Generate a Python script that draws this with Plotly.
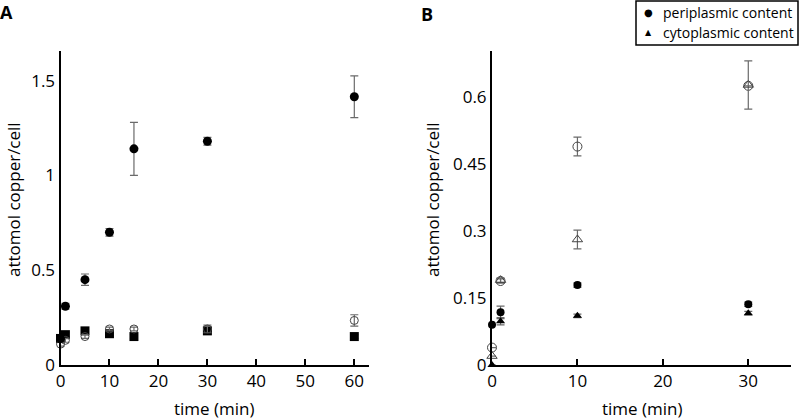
import plotly.graph_objects as go

# Panel A data
a_time = [0, 1, 5, 10, 15, 30, 60]
a_filled_circle = [0.14, 0.31, 0.45, 0.70, 1.14, 1.18, 1.415]
a_filled_circle_err = [0.01, 0.015, 0.03, 0.02, 0.14, 0.02, 0.11]
a_open_circle = [0.11, 0.13, 0.15, 0.19, 0.19, 0.19, 0.235]
a_open_circle_err = [0.01, 0.01, 0.01, 0.01, 0.01, 0.02, 0.03]
a_square = [0.14, 0.16, 0.18, 0.165, 0.15, 0.18, 0.15]
a_square_err = [0.01, 0.01, 0.01, 0.01, 0.01, 0.01, 0.01]

# Panel B data
b_time = [0, 1, 10, 30]
b_peri = [0.09, 0.118, 0.179, 0.136]
b_peri_err = [0.0, 0.014, 0.005, 0.005]
b_cyto = [0.0, 0.098, 0.11, 0.116]
b_cyto_err = [0.0, 0.008, 0.004, 0.004]
b_open_circle = [0.039, 0.188, 0.489, 0.625]
b_open_circle_err = [0.0, 0.005, 0.021, 0.0]
b_open_tri = [0.02, 0.19, 0.281, 0.627]
b_open_tri_err = [0.0, 0.005, 0.021, 0.054]

legend_labels = ["periplasmic content", "cytoplasmic content"]
legend_symbols = ["●", "▲"]

FONT = "Open Sans"
ERRC = "#6a6a6a"

def err(vals):
    return dict(type="data", array=vals, visible=True, color=ERRC, thickness=1.2, width=4)

fig = go.Figure()

# Panel A traces
fig.add_trace(go.Scatter(x=a_time, y=a_square, mode="markers", xaxis="x", yaxis="y",
                         marker=dict(symbol="square", size=9, color="black"),
                         error_y=err(a_square_err), showlegend=False, cliponaxis=False))
fig.add_trace(go.Scatter(x=a_time, y=a_open_circle, mode="markers", xaxis="x", yaxis="y",
                         marker=dict(symbol="circle-open", size=8, color="#444", line=dict(width=1)),
                         error_y=err(a_open_circle_err), showlegend=False, cliponaxis=False))
fig.add_trace(go.Scatter(x=a_time, y=a_filled_circle, mode="markers", xaxis="x", yaxis="y",
                         marker=dict(symbol="circle", size=9, color="black"),
                         error_y=err(a_filled_circle_err), showlegend=False, cliponaxis=False))

# Panel B traces
fig.add_trace(go.Scatter(x=b_time, y=b_open_circle, mode="markers", xaxis="x2", yaxis="y2",
                         marker=dict(symbol="circle-open", size=9, color="#444", line=dict(width=1)),
                         error_y=err(b_open_circle_err), showlegend=False, cliponaxis=False))
fig.add_trace(go.Scatter(x=b_time, y=b_open_tri, mode="markers", xaxis="x2", yaxis="y2",
                         marker=dict(symbol="triangle-up-open", size=9, color="#444", line=dict(width=1)),
                         error_y=err(b_open_tri_err), showlegend=False, cliponaxis=False))
fig.add_trace(go.Scatter(x=b_time, y=b_peri, mode="markers", xaxis="x2", yaxis="y2",
                         name=legend_labels[0],
                         marker=dict(symbol="circle", size=8, color="black"),
                         error_y=err(b_peri_err), showlegend=False, cliponaxis=False))
fig.add_trace(go.Scatter(x=b_time, y=b_cyto, mode="markers", xaxis="x2", yaxis="y2",
                         name=legend_labels[1],
                         marker=dict(symbol="triangle-up", size=8, color="black"),
                         error_y=err(b_cyto_err), showlegend=False, cliponaxis=False))

ydom = [1 - 365 / 419, 1 - 51 / 419]
axis_common = dict(showgrid=False, zeroline=False, showline=True, linecolor="black", linewidth=2,
                   automargin=False, tickfont=dict(family=FONT, size=17, color="black"))

fig.update_layout(
    width=800, height=419,
    margin=dict(l=0, r=0, t=0, b=0, autoexpand=False),
    paper_bgcolor="white", plot_bgcolor="white",
    font=dict(family=FONT, color="black"),
    showlegend=False,
    xaxis=dict(domain=[60.5 / 800, 369 / 800], range=[0, 63], tickvals=[0, 10, 20, 30, 40, 50, 60],
               ticks="inside", ticklen=6, tickwidth=2, tickcolor="black", anchor="y", **axis_common),
    yaxis=dict(domain=ydom, range=[0, 1.656], tickvals=[0, 0.5, 1, 1.5], ticktext=["0", "0.5", "1", "1.5"],
               ticks="", anchor="x", **axis_common),
    xaxis2=dict(domain=[492 / 800, 791 / 800], range=[0, 35], tickvals=[0, 10, 20, 30],
                ticks="inside", ticklen=6, tickwidth=2, tickcolor="black", anchor="y2", **axis_common),
    yaxis2=dict(domain=ydom, range=[0, 0.703], tickvals=[0, 0.15, 0.3, 0.45, 0.6],
                ticktext=["0", "0.15", "0.3", "0.45", "0.6"], ticks="", anchor="x2", **axis_common),
)

def px(x):
    return x / 800

def py(y):
    return 1 - y / 419

annotations = []
ann = [
    dict(text="<b>A</b>", x=6, y=12, font=dict(size=18)),
    dict(text="<b>B</b>", x=427, y=14, font=dict(size=18)),
    dict(text="time (min)", x=214, y=408, font=dict(size=17)),
    dict(text="time (min)", x=642, y=408, font=dict(size=17)),
]
for a in ann:
    annotations.append(dict(text=a["text"], x=px(a["x"]), y=py(a["y"]), xref="paper", yref="paper",
                            showarrow=False, xanchor="center", yanchor="middle",
                            font=dict(family=FONT, color="black", **a["font"])))
for xx in [14, 433]:
    annotations.append(dict(text="attomol copper/cell", x=px(xx), y=py(200), xref="paper", yref="paper",
                            showarrow=False, textangle=-90, xanchor="center", yanchor="middle",
                            font=dict(family=FONT, size=17, color="black")))

# Manual legend (box, symbols, labels)
for i, (sym, lab) in enumerate(zip(legend_symbols, legend_labels)):
    yy = 13 + i * 19
    annotations.append(dict(text=sym, x=px(648), y=py(yy), xref="paper", yref="paper", showarrow=False,
                            xanchor="center", yanchor="middle",
                            font=dict(family="DejaVu Sans", size=10 if i == 0 else 8, color="black")))
    annotations.append(dict(text=lab, x=px(661), y=py(yy), xref="paper", yref="paper", showarrow=False,
                            xanchor="left", yanchor="middle",
                            font=dict(family=FONT, size=14, color="black")))
fig.update_layout(
    annotations=annotations,
    shapes=[dict(type="rect", xref="paper", yref="paper", x0=px(636), x1=px(798), y0=py(45), y1=py(1),
                 line=dict(color="black", width=1.5), fillcolor="rgba(0,0,0,0)")],
)

fig.write_html("out.html", config={"displayModeBar": False},
               post_script="document.body.style.margin='0';document.body.style.overflow='hidden';")
